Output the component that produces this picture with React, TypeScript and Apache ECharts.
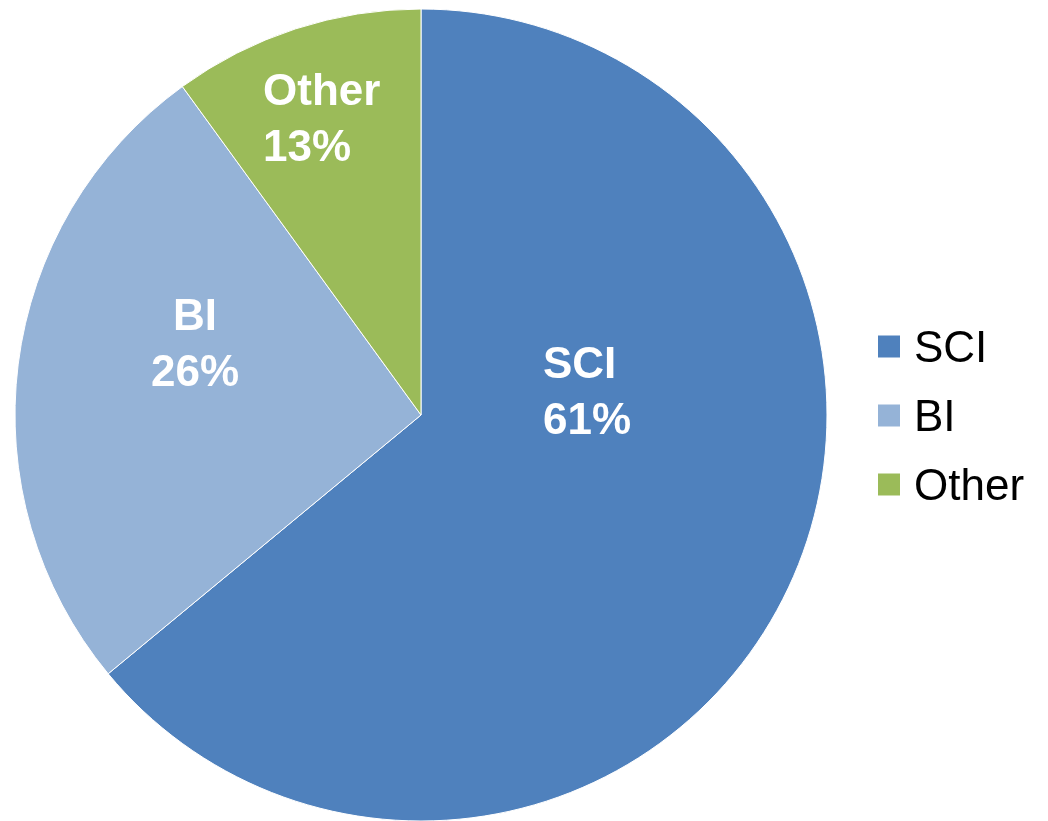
import React, { useEffect, useRef } from "react";
import * as echarts from "echarts";

const categories = ["SCI", "BI", "Other"];
const values = [64, 26, 10];
const labelTexts = ["61%", "26%", "13%"];
const colors = ["#4F81BD", "#95B3D7", "#9BBB59"];

export default function App() {
  const ref = useRef<HTMLDivElement>(null);
  useEffect(() => {
    if (!ref.current) return;
    const chart = echarts.init(ref.current, undefined, { renderer: "svg" });
    const labelPos = [
      { x: 543, y: 390, align: "left" },
      { x: 195, y: 342, align: "center" },
      { x: 263, y: 117, align: "left" },
    ];
    chart.setOption({
      animation: false,
      color: colors,
      legend: {
        orient: "vertical",
        left: 871,
        top: 318,
        itemWidth: 24,
        itemHeight: 24,
        itemGap: 22,
        icon: "rect",
        data: categories,
        textStyle: {
          fontFamily: "Liberation Sans, Arial, sans-serif",
          fontSize: 44,
          lineHeight: 47,
          color: "#000",
          padding: [0, 0, 0, 8],
        },
      },
      series: [
        {
          type: "pie",
          center: [421, 415],
          radius: 406,
          startAngle: 90,
          clockwise: true,
          avoidLabelOverlap: false,
          itemStyle: { borderColor: "#fff", borderWidth: 1 },
          label: {
            show: true,
            position: "inside",
            color: "#fff",
            fontWeight: "bold",
            fontFamily: "Liberation Sans, Arial, sans-serif",
            fontSize: 44,
            lineHeight: 56,
            formatter: (p: any) => `${p.name}\n${labelTexts[p.dataIndex]}`,
          },
          labelLine: { show: false },
          labelLayout: (p: any) => ({
            x: labelPos[p.dataIndex].x,
            y: labelPos[p.dataIndex].y,
            align: labelPos[p.dataIndex].align,
            verticalAlign: "middle",
          }),
          emphasis: { disabled: true },
          data: categories.map((c, i) => ({ name: c, value: values[i] })),
        },
      ],
    });
    return () => chart.dispose();
  }, []);
  return (
    <div
      ref={ref}
      style={{ position: "fixed", left: 0, top: 0, width: 1048, height: 821 }}
    />
  );
}
